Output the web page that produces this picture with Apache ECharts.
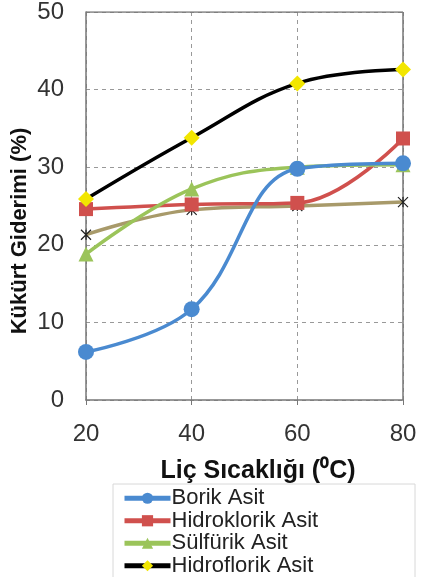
<!DOCTYPE html>
<html><head><meta charset="utf-8">
<script src="https://cdn.jsdelivr.net/npm/echarts@6/dist/echarts.min.js"></script>
<style>html,body{margin:0;padding:0;background:#fff}#c{width:423px;height:577px}</style>
</head><body><div id="c"></div>
<script>
const temps = [20, 40, 60, 80];
const seriesNames = ['Borik Asit', 'Hidroklorik Asit', 'Sülfürik Asit', 'Hidroflorik Asit', 'Nitrik Asit'];
const borik = [6.2, 11.7, 29.8, 30.5];
const hidroklorik = [24.6, 25.2, 25.4, 33.7];
const sulfurik = [18.8, 27.2, 30.0, 30.3];
const hidroflorik = [25.9, 33.8, 40.8, 42.6];
const fifth = [21.3, 24.5, 25.0, 25.5];
const yTicks = [0, 10, 20, 30, 40, 50];
const xTitle = 'Liç Sıcaklığı (⁰C)';
const yTitle = 'Kükürt Giderimi (%)';

const chart = echarts.init(document.getElementById('c'));
const pair = arr => arr.map((v, i) => [temps[i], v]);
const star = 'path://M0,0L10,10M10,0L0,10M5,0L5,10';
const FF = 'Liberation Sans';
function mk(name, data, color, symbol, size, mcolor, extra) {
  return Object.assign({
    name, type: 'line', data: pair(data), smooth: 0.4,
    symbol, symbolSize: size,
    lineStyle: { color, width: 3.5 },
    itemStyle: { color: mcolor, borderColor: mcolor, borderWidth: 0 },
    z: 3
  }, extra || {});
}
chart.setOption({
  animation: false,
  grid: { left: 86, right: 20, top: 11, bottom: 177 },
  graphic: [
    { type: 'rect', z: 0, shape: { x: 113, y: 484, width: 302, height: 100 },
      style: { fill: '#fff', stroke: '#d8d8d8', lineWidth: 1 } },
    { type: 'text', z: 5, x: 258, y: 471,
      style: { text: xTitle, font: 'bold 25px "Liberation Sans"', fill: '#111', textAlign: 'center', textVerticalAlign: 'middle' } },
    { type: 'text', z: 5, x: 20, y: 231, rotation: Math.PI / 2,
      style: { text: yTitle, font: 'bold 22px "Liberation Sans"', fill: '#111', textAlign: 'center', textVerticalAlign: 'middle' } }
  ],
  xAxis: {
    type: 'value', min: 20, max: 80, interval: 20,
    axisLine: { lineStyle: { color: '#777', width: 1.5 } },
    axisTick: { show: true, lineStyle: { color: '#777' }, length: 5 },
    axisLabel: { fontFamily: FF, fontSize: 24, color: '#333', margin: 22 },
    splitLine: { show: true, lineStyle: { color: '#999', type: [4, 4], width: 1 } }
  },
  yAxis: {
    type: 'value', min: 0, max: 50, interval: 10,
    axisLine: { show: true, lineStyle: { color: '#777', width: 1.5 } },
    axisTick: { show: false },
    axisLabel: { fontFamily: FF, fontSize: 24, color: '#333', margin: 22,
      formatter: v => yTicks.includes(v) ? String(v) : '' },
    splitLine: { show: true, lineStyle: { color: '#999', type: [4, 4], width: 1 } }
  },
  legend: {
    orient: 'vertical', left: 122, top: 487, itemGap: 0, height: 200, z: 10,
    itemWidth: 46, itemHeight: 14,
    padding: 0,
    lineStyle: { width: 5 },
    textStyle: { fontFamily: FF, fontSize: 22, lineHeight: 22.5, color: '#222', padding: [0, 0, 0, -4] },
    data: seriesNames
  },
  series: [
    mk(seriesNames[4], fifth, '#a89a6a', star, 10, '#222', { itemStyle: { color: 'none', borderColor: '#222', borderWidth: 1.2 } }),
    mk(seriesNames[1], hidroklorik, '#d0504d', 'rect', 14, '#d0504d'),
    mk(seriesNames[2], sulfurik, '#9bc45a', 'triangle', 15, '#9bc45a'),
    mk(seriesNames[0], borik, '#4a8ad0', 'circle', 16, '#4a8ad0'),
    mk(seriesNames[3], hidroflorik, '#000', 'diamond', 16, '#f2e600'),
    { type: 'line', silent: true, data: [[20, 50], [80, 50]], symbol: 'none', lineStyle: { color: '#777', width: 1.5 }, z: 1 },
    { type: 'line', silent: true, data: [[80, 0], [80, 50]], symbol: 'none', lineStyle: { color: '#777', width: 1.5 }, z: 1 }
  ]
});
</script></body></html>
